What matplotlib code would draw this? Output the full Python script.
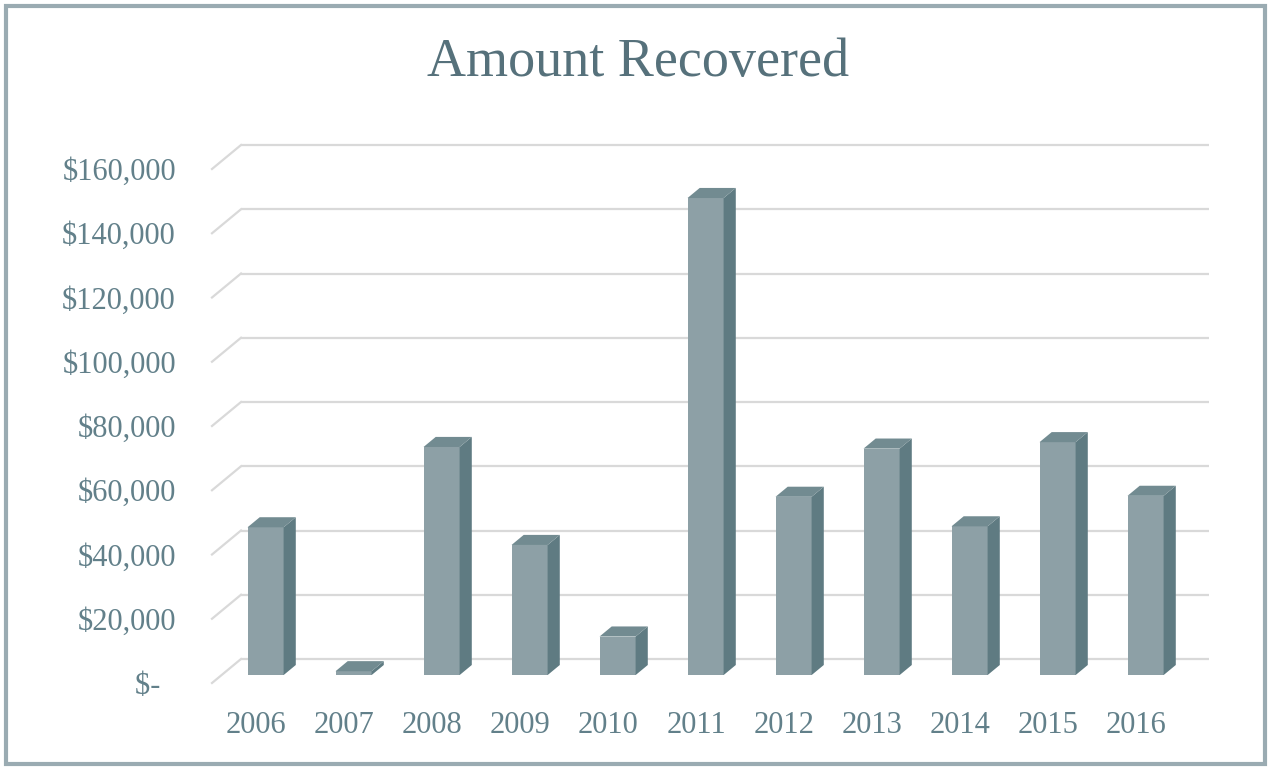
import numpy as np
import matplotlib
matplotlib.use("Agg")
import matplotlib.pyplot as plt
from matplotlib.patches import Polygon, Rectangle

# data
years = ["2006", "2007", "2008", "2009", "2010", "2011",
         "2012", "2013", "2014", "2015", "2016"]
recovered = [46000, 1200, 71000, 40500, 12000, 148500,
             55500, 70500, 46300, 72500, 55800]
y_ticks = [0, 20000, 40000, 60000, 80000, 100000, 120000, 140000, 160000]


def money(v):
    if v == 0:
        return "$-  "
    return "${:,.0f}".format(v)


W, H = 1271, 770
fig = plt.figure(figsize=(W / 100, H / 100), dpi=100)
fig.patch.set_facecolor("white")

# front plane of the pseudo-3d box, in figure pixels
left, right, bottom, top = 212, 1180, 770 - 683, 770 - 169
ax = fig.add_axes([left / W, bottom / H, (right - left) / W, (top - bottom) / H])
ax.set_xlim(-0.5, len(years) - 0.5)
ax.set_ylim(0, 160000)
for s in ax.spines.values():
    s.set_visible(False)
ax.set_facecolor("none")

# depth offsets (converted from pixels to data units)
px_x = (len(years)) / (right - left)
px_y = 160000 / (top - bottom)
DX, DY = 29 * px_x, 24 * px_y

grid_c = "#d9d9d9"
x0, x1 = -0.5, len(years) - 0.5
for v in y_ticks:
    ax.plot([x0 + DX, x1 + DX], [v + DY, v + DY], color=grid_c, lw=1.6,
            solid_capstyle="butt", clip_on=False, zorder=1)
    ax.plot([x0, x0 + DX], [v, v + DY], color=grid_c, lw=1.6,
            clip_on=False, zorder=1)

# bars sit a third of the way into the box
bar_w = 0.41
f0, f1 = 0.33, 0.75
front_c, side_c, top_c = "#8da0a6", "#5f7b82", "#728b91"
for i, v in enumerate(recovered):
    bx = i - bar_w / 2 + f0 * DX
    by = f0 * DY
    ddx, ddy = (f1 - f0) * DX, (f1 - f0) * DY
    ax.add_patch(Rectangle((bx, by), bar_w, v, facecolor=front_c,
                           edgecolor="none", zorder=3, clip_on=False))
    ax.add_patch(Polygon([(bx + bar_w, by), (bx + bar_w + ddx, by + ddy),
                          (bx + bar_w + ddx, by + v + ddy), (bx + bar_w, by + v)],
                         closed=True, facecolor=side_c, edgecolor="none",
                         zorder=3, clip_on=False))
    ax.add_patch(Polygon([(bx, by + v), (bx + bar_w, by + v),
                          (bx + bar_w + ddx, by + v + ddy), (bx + ddx, by + v + ddy)],
                         closed=True, facecolor=top_c, edgecolor="none",
                         zorder=3, clip_on=False))

tick_c = "#62808a"
font = "Liberation Serif"
ax.set_xticks(range(len(years)))
ax.set_xticklabels(years, family=font, fontsize=22, color=tick_c)
ax.set_yticks(y_ticks)
ax.set_yticklabels([money(v) for v in y_ticks], family=font, fontsize=22, color=tick_c)
ax.tick_params(axis="x", length=0, pad=20)
ax.tick_params(axis="y", length=0, pad=26)

fig.text(0.502, 1 - 63 / H, "Amount Recovered", family=font, fontsize=39,
         color="#56717b", ha="center", va="center")

# outer frame
fig.add_artist(Rectangle((6 / W, 6 / H), (W - 12) / W, (H - 12) / H,
                         transform=fig.transFigure, fill=False,
                         edgecolor="#9aabb2", lw=3))

fig.savefig("out.png", dpi=100)
